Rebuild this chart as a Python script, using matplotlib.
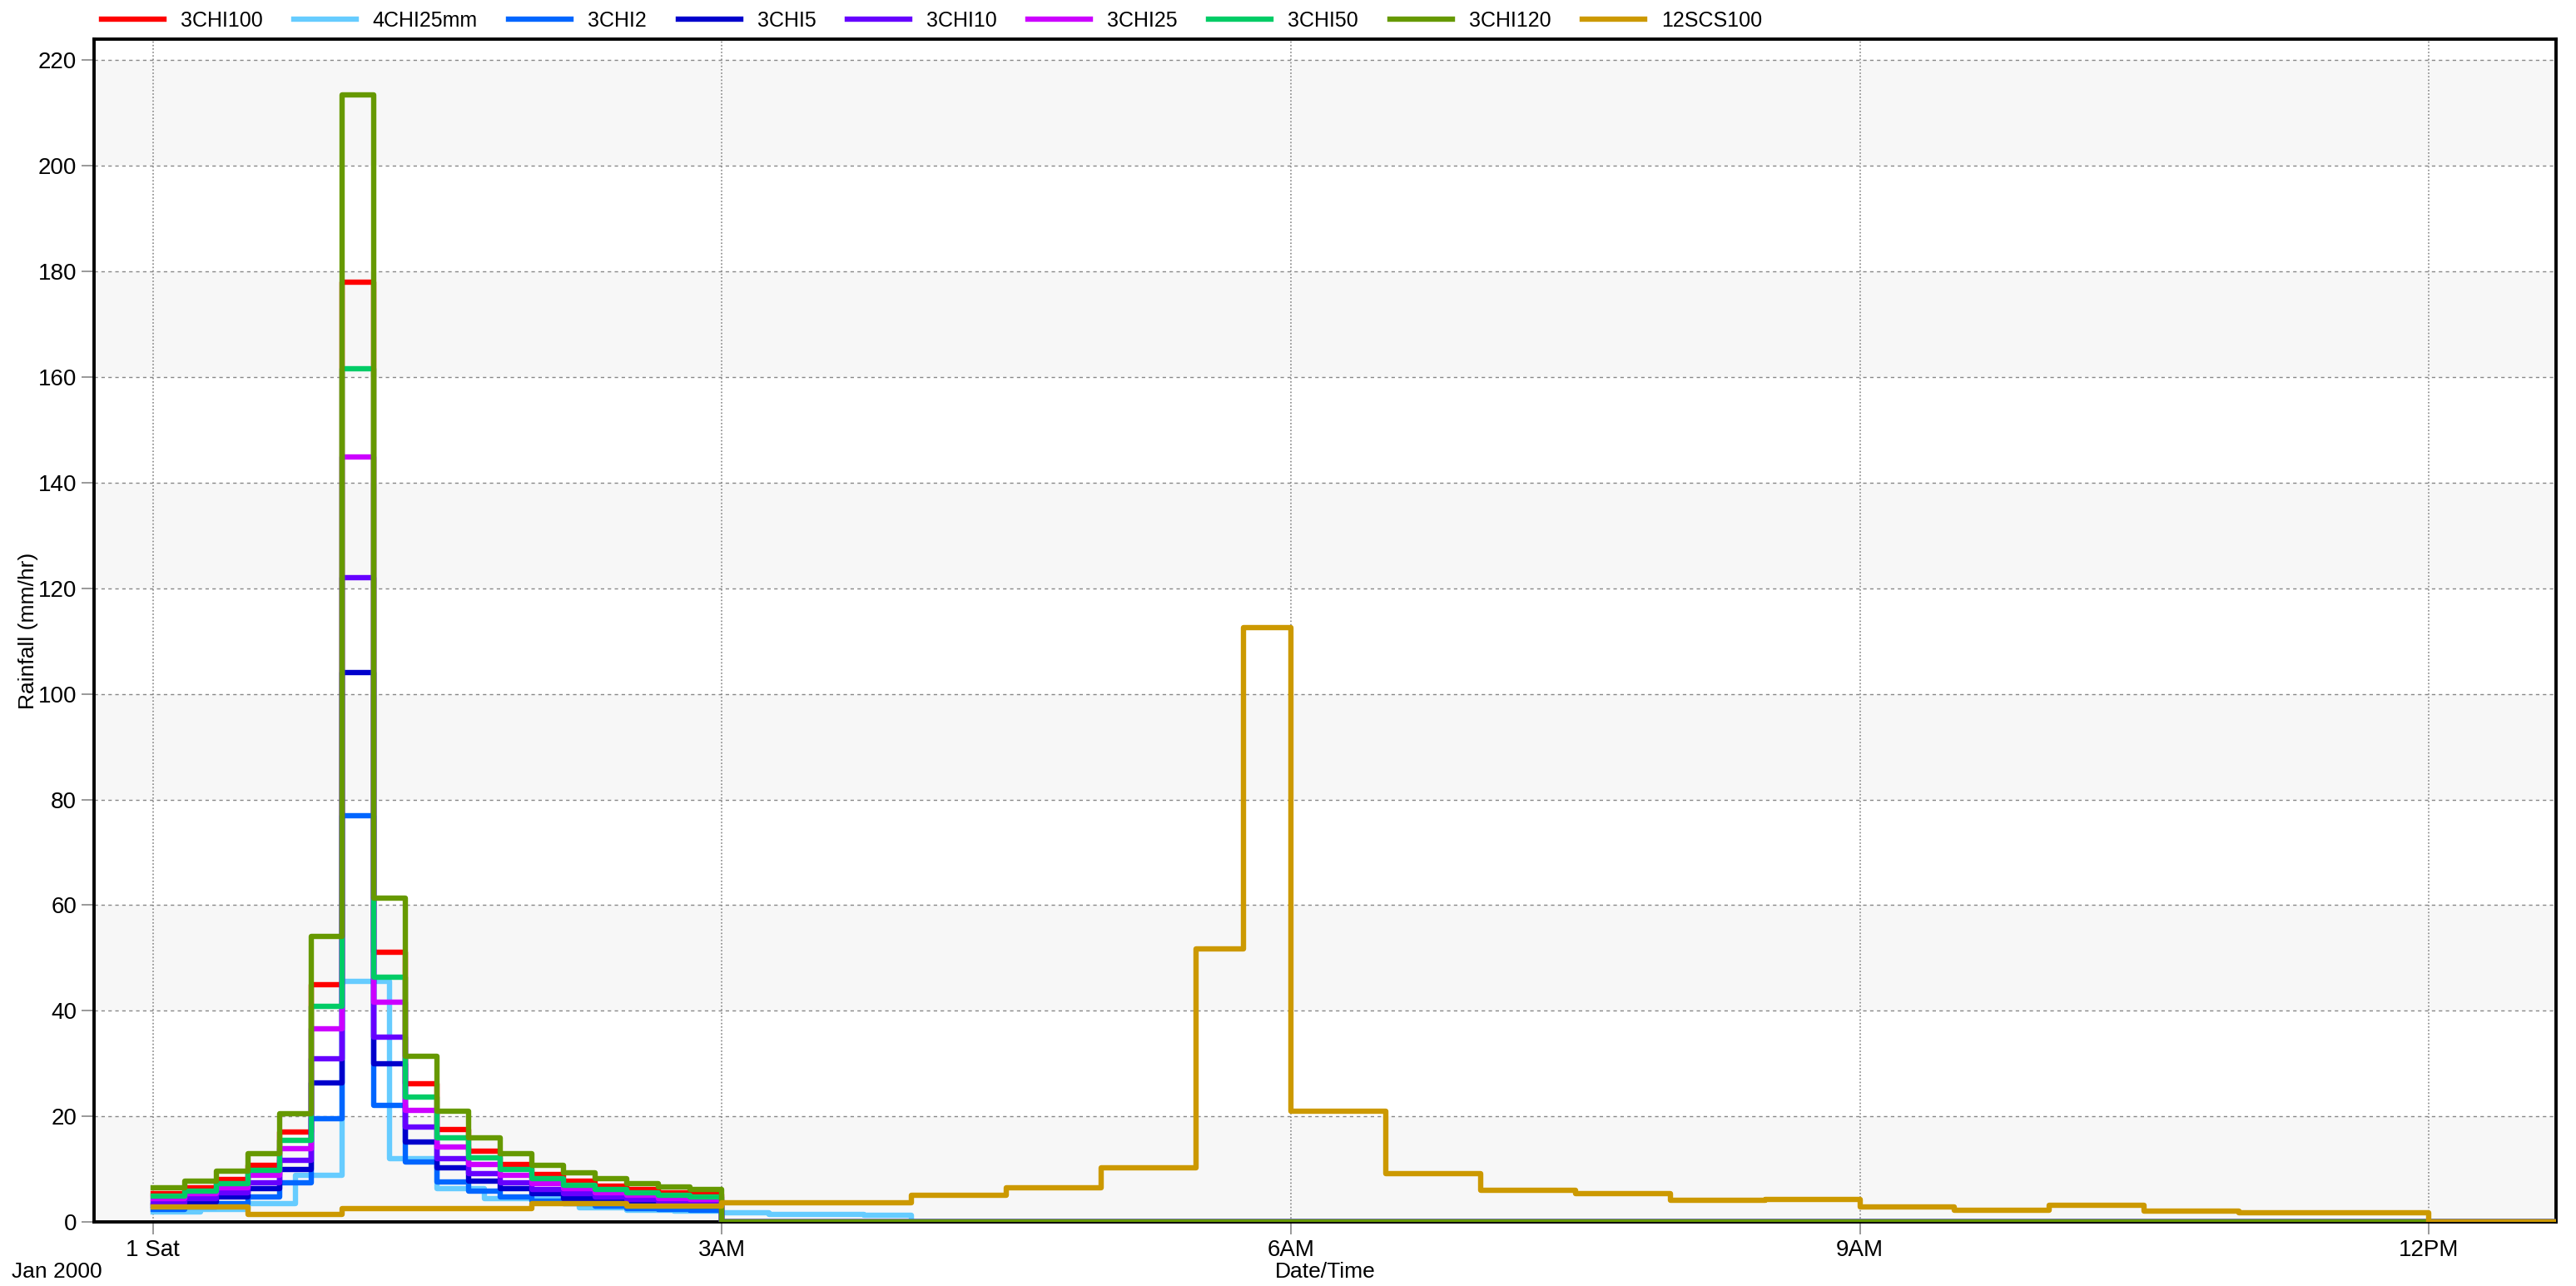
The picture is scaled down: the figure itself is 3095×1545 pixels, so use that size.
import matplotlib
matplotlib.use("Agg")
import matplotlib.pyplot as plt
import numpy as np

plt.rcParams['font.family'] = ['Liberation Sans', 'DejaVu Sans']

# rainfall intensities (mm/hr)
# 3 hour storms, 10 minute steps from 0:00
chi_step = 10.0
chi100 = [5.4, 6.5, 8.0, 10.8, 17.1, 45.0, 178.0, 51.1, 26.1, 17.5, 13.4, 10.9, 9.0, 7.8, 6.8, 6.1, 5.6, 5.2]
chi2 = [2.3, 2.8, 3.5, 4.7, 7.4, 19.5, 77.0, 22.1, 11.3, 7.6, 5.8, 4.7, 3.9, 3.4, 3.0, 2.6, 2.4, 2.2]
chi5 = [3.2, 3.8, 4.7, 6.3, 10.0, 26.3, 104.0, 29.9, 15.2, 10.2, 7.8, 6.3, 5.3, 4.5, 4.0, 3.6, 3.3, 3.0]
chi10 = [3.7, 4.5, 5.5, 7.4, 11.7, 30.9, 122.0, 35.0, 17.9, 12.0, 9.2, 7.4, 6.2, 5.3, 4.7, 4.2, 3.8, 3.5]
chi25 = [4.4, 5.3, 6.5, 8.8, 13.9, 36.6, 144.8, 41.6, 21.2, 14.2, 10.9, 8.8, 7.3, 6.3, 5.6, 5.0, 4.5, 4.2]
chi50 = [4.9, 5.9, 7.3, 9.8, 15.5, 40.9, 161.5, 46.4, 23.7, 15.9, 12.1, 9.9, 8.2, 7.0, 6.2, 5.5, 5.1, 4.7]
chi120 = [6.5, 7.8, 9.6, 13.0, 20.5, 54.0, 213.5, 61.3, 31.3, 21.0, 16.0, 13.0, 10.8, 9.3, 8.2, 7.3, 6.7, 6.2]

# 4 hour storm, 15 minute steps
chi4_step = 15.0
chi4_25mm = [1.9, 2.4, 3.5, 8.9, 45.5, 12.0, 6.3, 4.5, 4.4, 2.7, 2.2, 2.0, 1.8, 1.5, 1.4, 1.25]

# 12 hour SCS storm, 15 minute steps
scs_step = 15.0
scs100 = [2.9, 2.9, 1.5, 1.5, 2.6, 2.6, 2.6, 2.6, 3.4, 3.4, 3.0, 3.0,
          3.7, 3.7, 3.7, 3.7, 5.1, 5.1, 6.4, 6.4, 10.2, 10.2, 51.7, 112.5,
          20.9, 20.9, 9.2, 9.2, 6.0, 6.0, 5.3, 5.3, 4.1, 4.1, 4.3, 4.3,
          2.8, 2.8, 2.2, 2.2, 3.15, 3.15, 2.0, 2.0, 1.75, 1.75, 1.75, 1.75]

series = [
    ("3CHI100", chi100, chi_step, "#ff0000"),
    ("4CHI25mm", chi4_25mm, chi4_step, "#66ccff"),
    ("3CHI2", chi2, chi_step, "#0066ff"),
    ("3CHI5", chi5, chi_step, "#0000cc"),
    ("3CHI10", chi10, chi_step, "#6600ff"),
    ("3CHI25", chi25, chi_step, "#cc00ff"),
    ("3CHI50", chi50, chi_step, "#00cc66"),
    ("3CHI120", chi120, chi_step, "#669900"),
    ("12SCS100", scs100, scs_step, "#cc9900"),
]

tick_hours = [0, 3, 6, 9, 12]
tick_labels = ["1 Sat", "3AM", "6AM", "9AM", "12PM"]

fig = plt.figure(figsize=(15.475, 7.725), dpi=200)
ax = fig.add_axes([0.0365, 0.0498, 0.9557, 0.9198])

# alternating background bands
for lo in range(0, 220, 40):
    ax.axhspan(lo, lo + 20, color="#f7f7f7", zorder=0, lw=0)

lines = []
for name, vals, step, col in series:
    n = len(vals)
    t = np.arange(n + 1) * step / 60.0
    x = np.append(t, 14.0)
    y = np.append(vals, [0.0, 0.0])
    ln, = ax.step(x, y, where="post", color=col, lw=2.3, label=name, zorder=3)
    lines.append(ln)

ax.set_xlim(-0.31, 12.67)
ax.set_ylim(0, 224)
ax.set_xticks(tick_hours)
ax.set_xticklabels(tick_labels)
ax.set_yticks(np.arange(0, 221, 20))

ax.grid(axis="y", color="#888888", ls=(0, (3, 3)), lw=0.5)
ax.grid(axis="x", color="#888888", ls=(0, (1, 1.5)), lw=0.6)
ax.set_axisbelow(True)

ax.tick_params(axis="both", direction="out", length=5.5, width=0.7,
               color="#999999", labelsize=10, pad=2)
for s in ax.spines.values():
    s.set_linewidth(1.4)
    s.set_color("black")

ax.set_ylabel("Rainfall (mm/hr)", fontsize=9.5)
ax.yaxis.set_label_coords(-0.0225, 0.5)
fig.text(0.5145, 0.011, "Date/Time", fontsize=9.5, ha="center", va="center")
fig.text(0.0045, 0.011, "Jan 2000", fontsize=9.5, ha="left", va="center")

fig.legend(handles=lines, loc="upper left", bbox_to_anchor=(0.032, 1.006),
           ncol=9, frameon=False, fontsize=9, handlelength=3.0,
           handletextpad=0.8, columnspacing=1.5)

fig.savefig("out.png", dpi=200)
